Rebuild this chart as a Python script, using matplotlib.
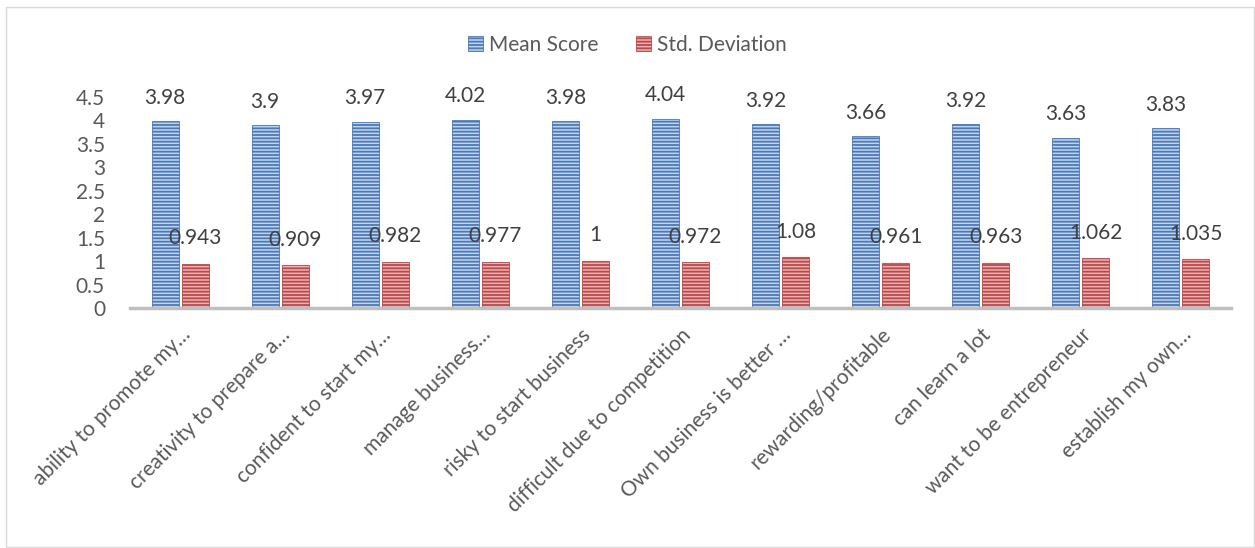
import matplotlib.pyplot as plt
import matplotlib.transforms as mtransforms
from matplotlib.patches import Rectangle
import numpy as np

# data
categories = ['ability to promote my…', 'creativity to prepare a…', 'confident to start my…',
              'manage business…', 'risky to start business', 'difficult due to competition',
              'Own business is better …', 'rewarding/profitable', 'can learn a lot',
              'want to be entrepreneur', 'establish my own…']
mean_score = [3.98, 3.9, 3.97, 4.02, 3.98, 4.04, 3.92, 3.66, 3.92, 3.63, 3.83]
std_dev = [0.943, 0.909, 0.982, 0.977, 1, 0.972, 1.08, 0.961, 0.963, 1.062, 1.035]
mean_text = ['3.98', '3.9', '3.97', '4.02', '3.98', '4.04', '3.92', '3.66', '3.92', '3.63', '3.83']
std_text = ['0.943', '0.909', '0.982', '0.977', '1', '0.972', '1.08', '0.961', '0.963', '1.062', '1.035']

plt.rcParams['font.family'] = ['Lato', 'DejaVu Sans']
plt.rcParams['hatch.linewidth'] = 1.3
txt_color = '#595959'

fig = plt.figure(figsize=(12.55, 5.48), dpi=100)
ax = fig.add_axes([130 / 1255, 1 - 308 / 548, 1101 / 1255, 211 / 548])

x = np.arange(len(categories))
w = 0.27
ax.bar(x - 0.15, mean_score, w, color='#c3d5ec', edgecolor='#4a78b8', hatch='-----',
       linewidth=0.6, label='Mean Score')
ax.bar(x + 0.15, std_dev, w, color='#eab3b2', edgecolor='#b9494b', hatch='-----',
       linewidth=0.6, label='Std. Deviation')

for i in range(len(categories)):
    ax.annotate(mean_text[i], (x[i] - 0.15, mean_score[i]), xytext=(0, 17), textcoords='offset points',
                ha='center', va='center', fontsize=15, color='#404040')
    ax.annotate(std_text[i], (x[i] + 0.15, std_dev[i]), xytext=(0, 18.5), textcoords='offset points',
                ha='center', va='center', fontsize=15, color='#404040')

ax.set_xlim(-0.5, 10.5)
ax.set_ylim(0, 4.5)
ax.set_yticks(np.arange(0, 4.51, 0.5))
ax.set_yticklabels(['0', '0.5', '1', '1.5', '2', '2.5', '3', '3.5', '4', '4.5'])
ax.tick_params(axis='y', length=0, labelsize=15, labelcolor=txt_color, pad=18)

ax.set_xticks(x)
ax.set_xticklabels(categories, rotation=45, ha='right', va='top', rotation_mode='anchor')
ax.tick_params(axis='x', length=0, labelsize=15, labelcolor=txt_color, pad=12)
shift = mtransforms.ScaledTranslation(0, 0, fig.dpi_scale_trans)
for lab in ax.get_xticklabels():
    lab.set_transform(lab.get_transform() + shift)

for s in ['top', 'right', 'left']:
    ax.spines[s].set_visible(False)
ax.spines['bottom'].set_color('#bfbfbf')
ax.spines['bottom'].set_linewidth(2.5)

fig.legend(loc='center', bbox_to_anchor=(0.5, 1 - 45 / 548), ncol=2, frameon=False,
           fontsize=15, labelcolor=txt_color, handlelength=0.7, handleheight=0.7,
           handletextpad=0.3, columnspacing=1.8)

# outer chart border
fig.patches.append(Rectangle((6 / 1255, 1 / 548), 1248 / 1255, 540 / 548, transform=fig.transFigure,
                             fill=False, edgecolor='#d9d9d9', linewidth=1))

fig.savefig('out.png', dpi=100)
